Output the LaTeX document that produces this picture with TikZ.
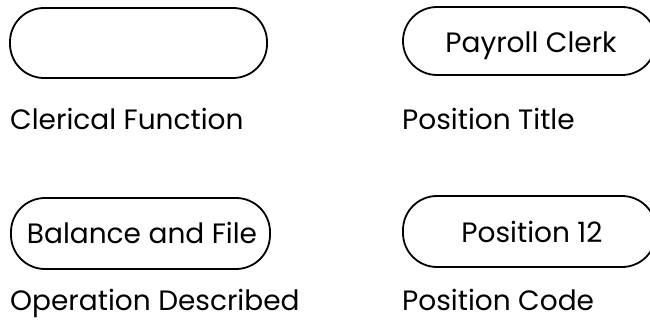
\documentclass[tikz,border=0pt]{standalone}
\usepackage{fontspec}
\setmainfont{Poppins}
\begin{document}
\begin{tikzpicture}[x=1pt,y=1pt,
  stadium/.style={draw=black,line width=1.8pt,rounded corners=34pt,inner sep=0pt},
  txt/.style={font=\fontsize{28}{32}\selectfont,inner sep=0pt,anchor=base}]
\useasboundingbox (0,0) rectangle (650,327);
\node[stadium,minimum width=257pt,minimum height=70pt] (s1) at (138.5,284) {};
\node[stadium,minimum width=253pt,minimum height=68pt] (s2) at (529.5,286) {};
\node[stadium,minimum width=259pt,minimum height=71pt] (s3) at (140.5,93.5) {};
\node[stadium,minimum width=253pt,minimum height=71pt] (s4) at (529.5,95.5) {};
\node[txt] (t2) at (531,274) {Payroll Clerk};
\node[txt] (t3) at (142,84) {Balance and File};
\node[txt] (t4) at (532,85) {Position 12};
\node[txt,anchor=base west] (l1) at (10,197) {Clerical Function};
\node[txt,anchor=base west] (l2) at (402,197) {Position Title};
\node[txt,anchor=base west] (l3) at (10,17) {Operation Described};
\node[txt,anchor=base west] (l4) at (402,17) {Position Code};
\end{tikzpicture}
\end{document}
